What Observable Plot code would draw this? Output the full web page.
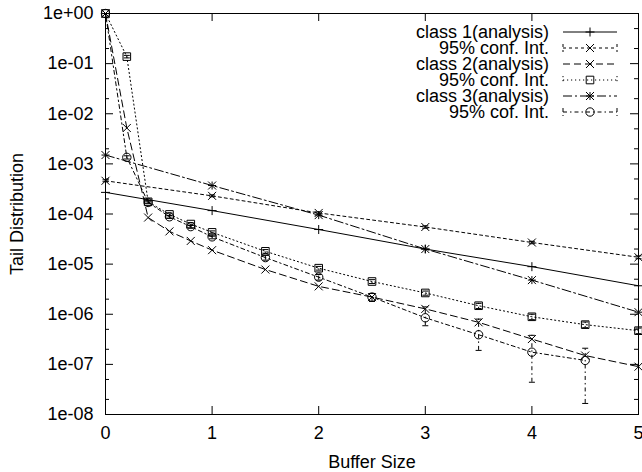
<!DOCTYPE html>
<html><head><meta charset="utf-8">
<script src="https://cdn.jsdelivr.net/npm/d3@7"></script>
<script src="https://cdn.jsdelivr.net/npm/@observablehq/plot@0.6"></script>
<style>body{margin:0;background:#fff} svg{display:block}</style>
</head><body><div id="chart"></div>
<script>
// ---- tick values / labels ----
const xTicks = [0, 1, 2, 3, 4, 5];
const yTicks = [1, 1e-1, 1e-2, 1e-3, 1e-4, 1e-5, 1e-6, 1e-7, 1e-8];
const yTickLabels = ["1e+00","1e-01","1e-02","1e-03","1e-04","1e-05","1e-06","1e-07","1e-08"];
const yMinorTicks = [5e-1,2e-1,5e-2,2e-2,5e-3,2e-3,5e-4,2e-4,5e-5,2e-5,5e-6,2e-6,5e-7,2e-7,5e-8,2e-8];
const xLabel = "Buffer Size";
const yLabel = "Tail Distribution";

// ---- series ----
const legendNames = ["class 1(analysis)", "95% conf. Int.", "class 2(analysis)", "95% conf. Int.", "class 3(analysis)", "95% cof. Int."];

const c1aX = [0, 1, 2, 3, 4, 5];
const c1aY = [2.7e-4, 1.17e-4, 4.9e-5, 2.0e-5, 8.9e-6, 3.7e-6];

const c1sX = [0, 1, 2, 3, 4, 5];
const c1sY = [4.6e-4, 2.3e-4, 1.05e-4, 5.5e-5, 2.7e-5, 1.37e-5];
const c1sLo = [4.4e-4, 2.2e-4, 1.0e-4, 5.2e-5, 2.55e-5, 1.28e-5];
const c1sHi = [4.8e-4, 2.4e-4, 1.1e-4, 5.8e-5, 2.85e-5, 1.46e-5];

const c2aX = [0, 0.2, 0.4, 0.6, 0.8, 1, 1.5, 2, 2.5, 3, 3.5, 4, 4.5, 5];
const c2aY = [1, 5.2e-3, 8.5e-5, 4.5e-5, 2.9e-5, 1.9e-5, 7.8e-6, 3.6e-6, 2.2e-6, 1.28e-6, 6.9e-7, 3.2e-7, 1.5e-7, 9e-8];

const c2sX = [0, 0.2, 0.4, 0.6, 0.8, 1, 1.5, 2, 2.5, 3, 3.5, 4, 4.5, 5];
const c2sY = [1, 0.138, 1.75e-4, 9.8e-5, 6.3e-5, 4.3e-5, 1.8e-5, 8.3e-6, 4.5e-6, 2.66e-6, 1.48e-6, 8.9e-7, 6.2e-7, 4.7e-7];
const c2sLo = [1, 0.13, 1.65e-4, 9.2e-5, 5.9e-5, 4.0e-5, 1.65e-5, 7.6e-6, 4.1e-6, 2.4e-6, 1.3e-6, 7.8e-7, 5.4e-7, 4.1e-7];
const c2sHi = [1, 0.146, 1.85e-4, 1.04e-4, 6.7e-5, 4.6e-5, 1.95e-5, 9.0e-6, 4.9e-6, 2.9e-6, 1.65e-6, 1.0e-6, 7.0e-7, 5.3e-7];

const c3aX = [0, 1, 2, 3, 4, 5];
const c3aY = [1.5e-3, 3.7e-4, 9.5e-5, 2.0e-5, 4.8e-6, 1.1e-6];

const c3sX = [0, 0.2, 0.4, 0.6, 0.8, 1, 1.5, 2, 2.5, 3, 3.5, 4, 4.5];
const c3sY = [1, 1.35e-3, 1.7e-4, 8.8e-5, 5.6e-5, 3.5e-5, 1.35e-5, 5.5e-6, 2.2e-6, 8.5e-7, 3.9e-7, 1.75e-7, 1.2e-7];
const c3sLo = [1, 1.25e-3, 1.6e-4, 8.2e-5, 5.2e-5, 3.2e-5, 1.2e-5, 4.8e-6, 1.8e-6, 5.9e-7, 1.9e-7, 4.4e-8, 1.66e-8];
const c3sHi = [1, 1.45e-3, 1.8e-4, 9.4e-5, 6.0e-5, 3.8e-5, 1.5e-5, 6.2e-6, 2.6e-6, 1.4e-6, 8.0e-7, 3.8e-7, 2.1e-7];

// ---- symbols (gnuplot-like) ----
const rad = size => Math.sqrt(size / Math.PI);
const symPlus = {draw(c, s){const r = rad(s); c.moveTo(-r,0); c.lineTo(r,0); c.moveTo(0,-r); c.lineTo(0,r);}};
const symTimes = {draw(c, s){const r = rad(s); c.moveTo(-r,-r); c.lineTo(r,r); c.moveTo(-r,r); c.lineTo(r,-r);}};
const symStar = {draw(c, s){const r = rad(s); c.moveTo(-r,0); c.lineTo(r,0); c.moveTo(0,-r); c.lineTo(0,r); c.moveTo(-r,-r); c.lineTo(r,r); c.moveTo(-r,r); c.lineTo(r,-r);}};
const symSquare = {draw(c, s){const r = rad(s); c.moveTo(-r,-r); c.lineTo(r,-r); c.lineTo(r,r); c.lineTo(-r,r); c.closePath();}};
const symCircle = {draw(c, s){const r = rad(s); c.moveTo(r,0); c.arc(0,0,r,0,2*Math.PI);}};
const symCap = {draw(c, s){const r = rad(s); c.moveTo(-r,0); c.lineTo(r,0);}};

const series = [
  {name: legendNames[0], X: c1aX, Y: c1aY, dash: null, sym: symPlus, r: 4.5},
  {name: legendNames[1], X: c1sX, Y: c1sY, Lo: c1sLo, Hi: c1sHi, dash: "3,3", sym: symTimes, r: 4},
  {name: legendNames[2], X: c2aX, Y: c2aY, dash: "7,4", sym: symTimes, r: 4},
  {name: legendNames[3], X: c2sX, Y: c2sY, Lo: c2sLo, Hi: c2sHi, dash: "1.2,2.8", sym: symSquare, r: 3.8},
  {name: legendNames[4], X: c3aX, Y: c3aY, dash: "9,3,2,3", sym: symStar, r: 4},
  {name: legendNames[5], X: c3sX, Y: c3sY, Lo: c3sLo, Hi: c3sHi, dash: "4,3,1.5,3", sym: symCircle, r: 4.2}
];
series.forEach(s => {
  s.rows = s.X.map((x, i) => ({x, y: s.Y[i], lo: s.Lo ? s.Lo[i] : null, hi: s.Hi ? s.Hi[i] : null}));
});

const W = 642, H = 472, ML = 105, MR = 4, MT = 13, MB = 58;
const PW = W - ML - MR, PH = H - MT - MB;
const majorLen = 8, minorLen = 4;
const labelMap = new Map(yTicks.map((v, i) => [v, yTickLabels[i]]));

const marks = [
  Plot.frame({stroke: "black", strokeWidth: 1}),
  Plot.tickY(yTicks, {y: d => d, insetRight: PW - majorLen, stroke: "black"}),
  Plot.tickY(yTicks, {y: d => d, insetLeft: PW - majorLen, stroke: "black"}),
  Plot.tickY(yMinorTicks, {y: d => d, insetRight: PW - minorLen, stroke: "black"}),
  Plot.tickY(yMinorTicks, {y: d => d, insetLeft: PW - minorLen, stroke: "black"}),
  Plot.tickX(xTicks, {x: d => d, insetTop: PH - majorLen, stroke: "black"}),
  Plot.tickX(xTicks, {x: d => d, insetBottom: PH - majorLen, stroke: "black"}),
  Plot.axisX({ticks: xTicks, tickSize: 0, tickPadding: 12, tickFormat: d => String(d), label: null}),
  Plot.axisY({ticks: yTicks, tickSize: 0, tickPadding: 12, tickFormat: d => labelMap.get(d), label: null}),
  Plot.text([xLabel], {frameAnchor: "bottom", dy: 48, lineAnchor: "middle", textAnchor: "middle", fontSize: 18, fill: "black"}),
  Plot.text([yLabel], {frameAnchor: "left", dx: -88, rotate: -90, lineAnchor: "middle", textAnchor: "middle", fontSize: 18, fill: "black"})
];
for (const s of series) {
  marks.push(Plot.line(s.rows, {x: "x", y: "y", stroke: "black", strokeWidth: 1, strokeDasharray: s.dash || undefined}));
  if (s.Lo) {
    marks.push(Plot.ruleX(s.rows, {x: "x", y1: "lo", y2: "hi", stroke: "black", strokeWidth: 1, strokeDasharray: s.dash}));
    marks.push(Plot.dot(s.rows, {x: "x", y: "lo", symbol: symCap, r: 3, stroke: "black", strokeWidth: 1}));
    marks.push(Plot.dot(s.rows, {x: "x", y: "hi", symbol: symCap, r: 3, stroke: "black", strokeWidth: 1}));
  }
  marks.push(Plot.dot(s.rows, {x: "x", y: "y", symbol: s.sym, r: s.r, stroke: "black", fill: "none", strokeWidth: 1}));
}

const chart = Plot.plot({
  width: W, height: H,
  marginLeft: ML, marginRight: MR, marginTop: MT, marginBottom: MB,
  style: {fontFamily: "'Liberation Sans', Arial, Helvetica, sans-serif", fontSize: "18px", color: "black", background: "white", overflow: "hidden"},
  x: {domain: [0, 5]},
  y: {type: "log", domain: [1e-8, 1]},
  marks
});
document.getElementById("chart").appendChild(chart);

// ---- legend (inside plot, top right) ----
const svg = d3.select(chart);
const lg = svg.append("g").attr("fill", "black").attr("stroke", "none");
const textRight = W - MR - 89, lineX1 = W - MR - 75, lineX2 = W - MR - 21, y0 = MT + 19, dyRow = 16;
series.forEach((s, i) => {
  const y = y0 + i * dyRow;
  lg.append("text").attr("x", textRight).attr("y", y).attr("dy", "0.35em")
    .attr("text-anchor", "end").attr("font-size", 18).text(s.name);
  lg.append("line").attr("x1", lineX1).attr("x2", lineX2).attr("y1", y).attr("y2", y)
    .attr("stroke", "black").attr("stroke-dasharray", s.dash).attr("stroke-width", 1);
  if (s.Lo) {
    for (const xx of [lineX1, lineX2]) {
      lg.append("line").attr("x1", xx).attr("x2", xx).attr("y1", y - 4).attr("y2", y + 4)
        .attr("stroke", "black").attr("stroke-dasharray", s.dash).attr("stroke-width", 1);
    }
  }
  const size = Math.PI * s.r * s.r;
  lg.append("path").attr("transform", `translate(${(lineX1 + lineX2) / 2},${y})`)
    .attr("d", d3.symbol(s.sym, size)()).attr("fill", "none").attr("stroke", "black");
});
</script>
</body></html>
